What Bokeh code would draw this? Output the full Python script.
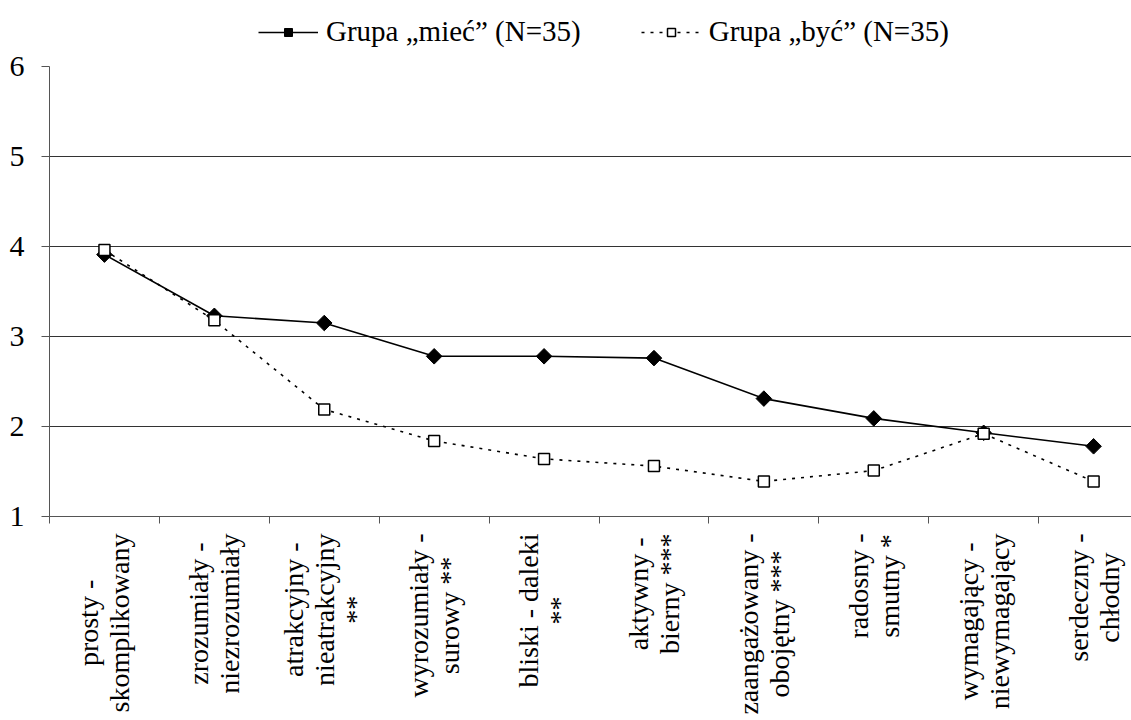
import math
from bokeh.plotting import figure
from bokeh.layouts import column
from bokeh.models import Range1d, FixedTicker, Legend, LegendItem, ColumnDataSource
from bokeh.core.properties import value
from bokeh.embed import file_html
from bokeh.resources import INLINE

categories = [
    "prosty -\nskomplikowany",
    "zrozumiały -\nniezrozumiały",
    "atrakcyjny -\nnieatrakcyjny\n**",
    "wyrozumiały -\nsurowy **",
    "bliski - daleki\n**",
    "aktywny -\nbierny ***",
    "zaangażowany -\nobojętny ***",
    "radosny -\nsmutny *",
    "wymagający -\nniewymagający",
    "serdeczny -\nchłodny",
]
miec = [3.91, 3.23, 3.15, 2.78, 2.78, 2.76, 2.31, 2.09, 1.93, 1.78]
byc = [3.96, 3.18, 2.19, 1.84, 1.64, 1.56, 1.39, 1.51, 1.92, 1.39]
y_ticks = [1, 2, 3, 4, 5, 6]
legend_labels = ["Grupa „mieć” (N=35)", "Grupa „być” (N=35)"]

xs = list(range(len(categories)))
FONT = "Liberation Serif"
W = 1131
LEFT = 49
x_range = Range1d(-0.5, 9.345)

DIAMOND = dict(marker="square", angle=math.pi / 4, size=11, fill_color="black", line_color="black")
SQUARE = dict(marker="square", size=11, fill_color="white", line_color="black", line_width=1.5)
DOT = "3 6"

# ---- legend strip (top) ----
TOP_H = 48
t = figure(width=W, height=TOP_H, x_range=Range1d(0, 1), y_range=Range1d(0, 1),
           output_backend="svg", toolbar_location=None,
           min_border_left=LEFT, min_border_right=0, min_border_top=0, min_border_bottom=0)
t.axis.visible = False
t.grid.visible = False
t.outline_line_color = None
# proxy renderers (outside the visible range) that only supply the legend glyphs
tl1 = t.line(x=[5, 6], y=[5, 6], line_color="black", line_width=1.6)
tm1 = t.scatter(x=[5], y=[5], **DIAMOND)
tl2 = t.line(x=[5, 6], y=[5, 6], line_color="black", line_width=1.6, line_dash=DOT)
tm2 = t.scatter(x=[5], y=[5], **SQUARE)
legend = Legend(items=[LegendItem(label=legend_labels[0], renderers=[tl1, tm1]),
                       LegendItem(label=legend_labels[1], renderers=[tl2, tm2])],
                orientation="horizontal", location=(209, 0),
                glyph_width=60, label_standoff=8, spacing=60, padding=0, margin=0,
                border_line_color=None, background_fill_alpha=0,
                label_text_font=FONT, label_text_font_size="29px", label_text_color="black")
t.add_layout(legend, "center")

# ---- main chart ----
MAIN_TOP, MAIN_BOTTOM, FRAME_H = 18, 16, 450
p = figure(width=W, height=MAIN_TOP + FRAME_H + MAIN_BOTTOM, x_range=x_range, y_range=Range1d(1, 6),
           output_backend="svg", toolbar_location=None,
           min_border_left=LEFT, min_border_right=0, min_border_top=MAIN_TOP, min_border_bottom=MAIN_BOTTOM)
p.outline_line_color = None
p.background_fill_color = "white"

p.xaxis.ticker = FixedTicker(ticks=xs, minor_ticks=[i - 0.5 for i in range(len(categories) + 1)])
p.xaxis.major_label_overrides = {i: "" for i in xs}
p.xaxis.major_label_text_font_size = "0px"
p.xaxis.major_label_standoff = 0
p.xaxis.major_tick_out = 0
p.xaxis.major_tick_in = 0
p.xaxis.minor_tick_out = 7
p.xaxis.minor_tick_in = 0
p.xaxis.minor_tick_line_color = "#555555"
p.xaxis.axis_line_color = "#555555"

p.yaxis.ticker = FixedTicker(ticks=y_ticks)
p.yaxis.major_tick_out = 8
p.yaxis.major_tick_in = 0
p.yaxis.minor_tick_line_color = None
p.yaxis.axis_line_color = "#555555"
p.yaxis.major_tick_line_color = "#555555"
p.yaxis.major_label_standoff = 17
p.yaxis.major_label_text_font = FONT
p.yaxis.major_label_text_font_size = "30px"
p.yaxis.major_label_text_color = "black"

p.xgrid.visible = False
p.ygrid.ticker = FixedTicker(ticks=y_ticks[1:])
p.ygrid.grid_line_color = "#333333"
p.ygrid.grid_line_width = 1

p.line(xs, miec, line_color="black", line_width=1.6)
p.scatter(xs, miec, **DIAMOND)
p.line(xs, byc, line_color="black", line_width=1.6, line_dash=DOT)
p.scatter(xs, byc, **SQUARE)

# ---- category labels (bottom) ----
# Times / Liberation Serif advance widths (1/1000 em) to centre the lines of each label
TW = {" ": 250, "-": 333, "*": 500, "a": 444, "b": 500, "c": 444, "d": 500, "e": 444,
      "f": 333, "g": 500, "h": 500, "i": 278, "j": 278, "k": 500, "l": 278, "m": 778,
      "n": 500, "o": 500, "p": 500, "r": 333, "s": 389, "t": 278, "u": 500, "w": 722,
      "y": 500, "z": 444, "ł": 278, "ą": 444, "ę": 444, "ż": 444}
FS = 28
LINE_PX = 31
LAB_H = 720 - TOP_H - (MAIN_TOP + FRAME_H + MAIN_BOTTOM)
TOP_GAP = 1


def text_px(s):
    return sum(TW.get(ch, 500) for ch in s) / 1000 * FS


lx, ly, loff, ltxt = [], [], [], []
for i, c in enumerate(categories):
    parts = c.split("\n")
    n = len(parts)
    block = max(text_px(s) for s in parts)
    for k, s in enumerate(parts):
        lx.append(i)
        ly.append(LAB_H - TOP_GAP - block / 2)
        loff.append((k - (n - 1) / 2) * LINE_PX)
        ltxt.append(s)
lab_src = ColumnDataSource(dict(x=lx, y=ly, xo=loff, text=ltxt))

q = figure(width=W, height=LAB_H, x_range=x_range, y_range=Range1d(0, LAB_H),
           output_backend="svg", toolbar_location=None,
           min_border_left=LEFT, min_border_right=0, min_border_top=0, min_border_bottom=0)
q.axis.visible = False
q.grid.visible = False
q.outline_line_color = None
q.text(x="x", y="y", text="text", x_offset="xo", source=lab_src, angle=math.pi / 2,
       text_align="center", text_baseline="middle", text_font=value(FONT),
       text_font_size=f"{FS}px", text_color="black")

layout = column(t, p, q, spacing=0)
open("out.html", "w").write(file_html(layout, INLINE))
